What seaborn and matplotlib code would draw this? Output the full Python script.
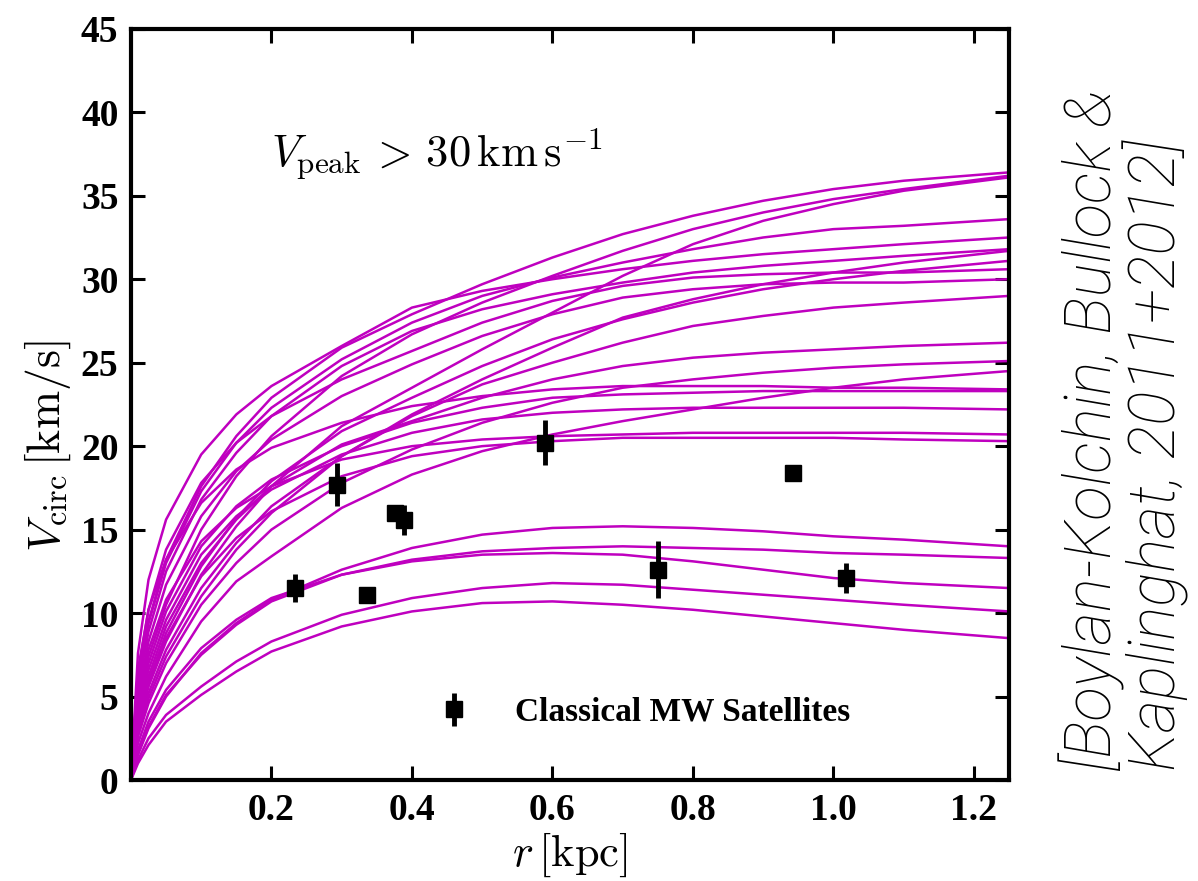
import numpy as np
import pandas as pd
import matplotlib
matplotlib.use("Agg")
import matplotlib.pyplot as plt
import seaborn as sns

r_kpc = [0, 0.01, 0.025, 0.05, 0.1, 0.15, 0.2, 0.3, 0.4, 0.5, 0.6, 0.7, 0.8, 0.9, 1.0, 1.1, 1.25]

# subhalo rotation curves, V_peak > 30 km/s (km/s)
u01 = [0, 6.0, 9.5, 13.2, 17.6, 20.6, 22.9, 25.9, 27.9, 29.7, 31.3, 32.7, 33.8, 34.7, 35.4, 35.9, 36.4]
u02 = [0, 4.5, 7.4, 10.5, 15.0, 18.2, 20.6, 24.2, 26.7, 28.6, 30.2, 31.7, 33.0, 34.0, 34.8, 35.4, 36.2]
u03 = [0, 3.2, 5.6, 8.3, 12.3, 15.2, 17.6, 21.2, 23.5, 25.8, 28.0, 30.2, 32.1, 33.5, 34.5, 35.3, 36.1]
u04 = [0, 5.8, 9.4, 13.0, 17.3, 20.2, 22.3, 25.2, 27.4, 29.0, 30.1, 31.0, 31.8, 32.5, 33.0, 33.2, 33.6]
u05 = [0, 7.6, 12.0, 15.6, 19.5, 21.9, 23.6, 26.0, 28.3, 29.3, 30.0, 30.6, 31.1, 31.5, 31.8, 32.1, 32.5]
u06 = [0, 5.5, 8.9, 12.5, 16.8, 19.6, 21.8, 24.8, 26.9, 28.2, 29.1, 29.8, 30.4, 30.8, 31.1, 31.4, 31.8]
u07 = [0, 2.8, 4.9, 7.4, 11.0, 13.8, 16.0, 19.4, 21.9, 24.0, 25.9, 27.7, 28.8, 29.7, 30.4, 31.0, 31.7]
u08 = [0, 3.4, 5.9, 8.8, 12.8, 15.7, 17.9, 20.9, 22.9, 24.8, 26.4, 27.6, 28.6, 29.4, 30.0, 30.5, 31.1]
u09 = [0, 6.4, 10.2, 13.8, 17.8, 20.2, 21.8, 24.0, 25.7, 27.4, 28.7, 29.6, 30.1, 30.3, 30.4, 30.4, 30.6]
u10 = [0, 5.0, 8.3, 11.7, 15.8, 18.5, 20.4, 23.0, 24.9, 26.6, 27.9, 28.9, 29.4, 29.7, 29.8, 29.8, 30.0]
u11 = [0, 3.0, 5.2, 7.8, 11.5, 14.2, 16.4, 19.4, 21.8, 23.7, 25.0, 26.2, 27.2, 27.8, 28.3, 28.6, 29.0]
u12 = [0, 3.6, 6.2, 9.2, 13.0, 15.6, 17.6, 20.1, 21.5, 22.9, 24.0, 24.8, 25.3, 25.6, 25.8, 26.0, 26.2]
u13 = [0, 2.6, 4.6, 7.0, 10.5, 13.0, 15.0, 17.8, 19.8, 21.4, 22.6, 23.5, 24.0, 24.4, 24.7, 24.9, 25.1]
u14 = [0, 2.2, 4.0, 6.2, 9.5, 11.9, 13.4, 16.3, 18.3, 19.7, 20.7, 21.5, 22.2, 22.9, 23.5, 24.0, 24.5]
u15 = [0, 6.6, 10.2, 13.2, 16.6, 18.6, 19.9, 21.4, 22.4, 23.0, 23.4, 23.6, 23.6, 23.6, 23.5, 23.5, 23.4]
u16 = [0, 4.2, 7.0, 10.1, 14.0, 16.4, 18.0, 20.0, 21.4, 22.3, 22.9, 23.1, 23.2, 23.3, 23.3, 23.3, 23.3]
u17 = [0, 3.9, 6.6, 9.6, 13.5, 15.8, 17.4, 19.5, 20.8, 21.6, 22.0, 22.2, 22.3, 22.3, 22.3, 22.3, 22.2]
u18 = [0, 4.8, 7.8, 10.8, 14.3, 16.3, 17.6, 19.2, 20.0, 20.4, 20.6, 20.7, 20.8, 20.8, 20.8, 20.8, 20.7]
u19 = [0, 3.3, 5.7, 8.5, 12.2, 14.5, 16.1, 18.2, 19.4, 20.0, 20.3, 20.5, 20.5, 20.5, 20.5, 20.4, 20.3]
l01 = [0, 1.5, 3.1, 5.0, 7.6, 9.4, 10.8, 12.6, 13.9, 14.7, 15.1, 15.2, 15.1, 14.9, 14.6, 14.4, 14.0]
l02 = [0, 1.6, 3.2, 5.1, 7.5, 9.3, 10.7, 12.3, 13.2, 13.7, 13.9, 14.0, 13.9, 13.8, 13.6, 13.5, 13.3]
l03 = [0, 1.8, 3.5, 5.4, 7.9, 9.6, 10.9, 12.3, 13.1, 13.5, 13.6, 13.5, 13.1, 12.6, 12.1, 11.8, 11.5]
l04 = [0, 1.2, 2.5, 3.9, 5.6, 7.1, 8.3, 9.9, 10.9, 11.5, 11.8, 11.7, 11.4, 11.1, 10.8, 10.5, 10.1]
l05 = [0, 1.0, 2.1, 3.5, 5.1, 6.5, 7.7, 9.2, 10.1, 10.6, 10.7, 10.5, 10.2, 9.8, 9.4, 9.0, 8.5]

curves = [u01, u02, u03, u04, u05, u06, u07, u08, u09, u10, u11, u12, u13,
          u14, u15, u16, u17, u18, u19, l01, l02, l03, l04, l05]

# classical MW satellites: r_1/2, V_circ(r_1/2) and error
sat_r = [0.234, 0.294, 0.336, 0.376, 0.389, 0.589, 0.750, 0.943, 1.018]
sat_v = [11.5, 17.7, 11.1, 16.0, 15.6, 20.2, 12.6, 18.4, 12.1]
sat_err = [0.85, 1.3, 0.3, 0.4, 0.9, 1.35, 1.7, 0.3, 0.9]

rows = []
for i, vc in enumerate(curves):
    for r, v in zip(r_kpc, vc):
        rows.append((i, r, v))
df = pd.DataFrame(rows, columns=["curve", "r", "v"])

sns.set_style("ticks")
plt.rcParams["font.family"] = ["Liberation Serif", "DejaVu Serif"]
plt.rcParams["font.weight"] = "bold"
plt.rcParams["mathtext.fontset"] = "cm"
for key in ["axes.edgecolor", "text.color", "xtick.color", "ytick.color", "axes.labelcolor"]:
    plt.rcParams[key] = "black"

fig = plt.figure(figsize=(11.98, 8.81), dpi=100)
ax = fig.add_axes([0.1093, 0.1146, 0.733, 0.8527])

sns.lineplot(data=df, x="r", y="v", units="curve", estimator=None, sort=False,
             color="#bf00bf", linewidth=1.8, ax=ax)

eb = ax.errorbar(sat_r, sat_v, yerr=sat_err, fmt="s", color="black", ms=12,
                 elinewidth=3.5, capsize=0, zorder=5)

ax.set_xlim(0, 1.25)
ax.set_ylim(0, 45)
ax.set_xticks([0.2, 0.4, 0.6, 0.8, 1.0, 1.2])
ax.set_yticks(range(0, 46, 5))
ax.tick_params(direction="in", top=True, right=True, length=10, width=2.2,
               labelsize=27, pad=9)
for lab in ax.get_xticklabels() + ax.get_yticklabels():
    lab.set_fontweight("bold")
for sp in ax.spines.values():
    sp.set_linewidth(3)

ax.set_xlabel(r"$r\,[{\rm kpc}]$", fontsize=32, labelpad=2)
ax.set_ylabel(r"$V_{\rm circ}\,[{\rm km/s}]$", fontsize=33)
ax.yaxis.set_label_coords(-0.066, 0.445)

ax.text(0.2, 37.5, r"$V_{\rm peak}\,>\,30\,{\rm km\,s^{-1}}$", fontsize=32,
        ha="left", va="center")

ax.legend([eb], ["Classical MW Satellites"], loc="center left",
          bbox_to_anchor=(0.305, 0.09), frameon=False, numpoints=1,
          prop={"family": "Liberation Serif", "weight": "bold", "size": 24},
          handlelength=1.5, handletextpad=1.1)

fig.text(0.938, 0.125, "[Boylan-Kolchin, Bullock &\nKaplinghat, 2011+2012]",
         rotation=90, ha="center", va="bottom", multialignment="left",
         fontsize=46, family=["Roboto", "Liberation Sans", "DejaVu Sans"],
         fontweight="light", style="italic", linespacing=0.95, color="black")

fig.savefig("out.png", dpi=100)
